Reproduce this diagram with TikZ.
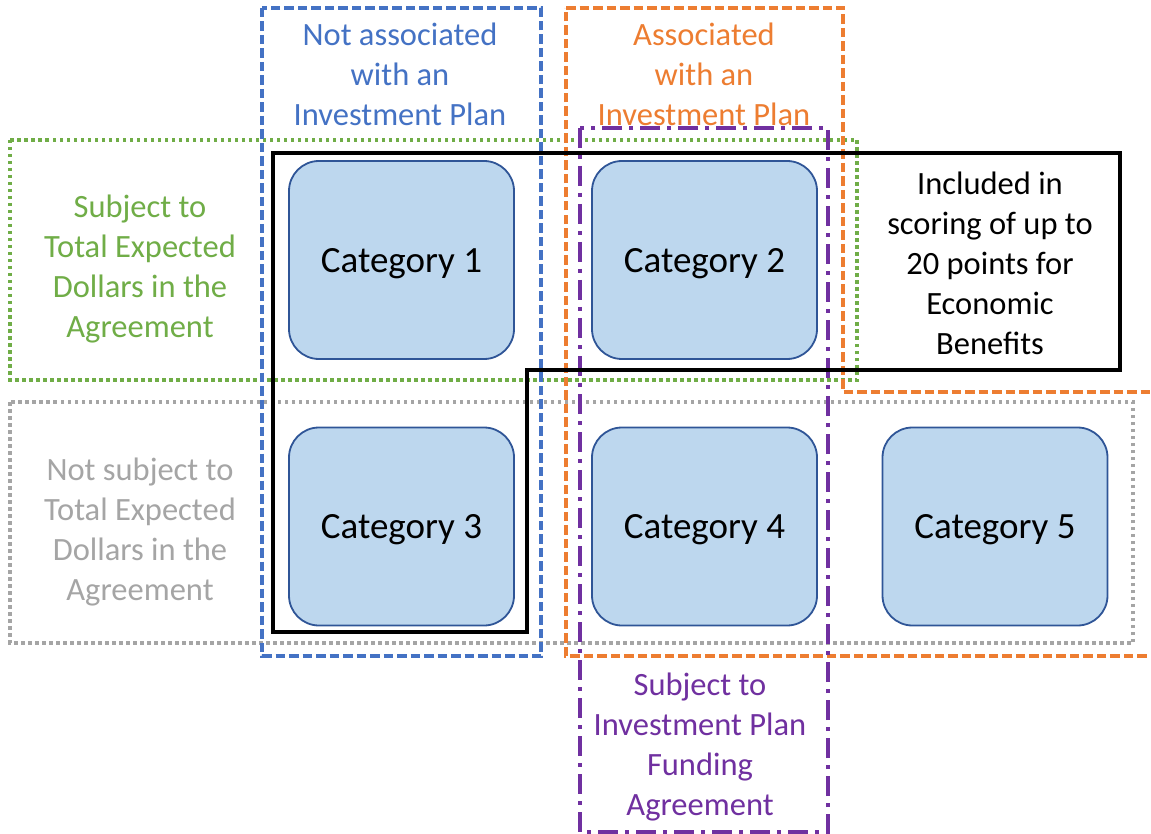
\documentclass[tikz,border=0pt]{standalone}
\usepackage{fontspec}
\setmainfont{Carlito}
\usepackage{tikz}
\definecolor{planblue}{HTML}{4472C4}
\definecolor{planorange}{HTML}{ED7D31}
\definecolor{plangreen}{HTML}{70AD47}
\definecolor{plangray}{HTML}{A5A5A5}
\definecolor{planpurple}{HTML}{7030A0}
\definecolor{catfill}{HTML}{BDD7EE}
\definecolor{catline}{HTML}{2F5597}
\begin{document}
\begin{tikzpicture}[x=1pt,y=-1pt,
  catbox/.style={draw=catline,fill=catfill,line width=1.8pt,rounded corners=30pt,
    minimum width=225pt,minimum height=198pt,text depth=0pt,font=\fontsize{37}{45}\selectfont},
  grouplabel/.style={align=center,font=\fontsize{32.5}{40}\selectfont},
  bluedash/.style={draw=planblue,line width=4pt,dash pattern=on 9.5pt off 4pt},
  orangedash/.style={draw=planorange,line width=4pt,dash pattern=on 9.5pt off 4pt},
  greendot/.style={draw=plangreen,line width=4pt,dash pattern=on 3.5pt off 3.5pt},
  graydot/.style={draw=plangray,line width=4pt,dash pattern=on 3.5pt off 3.5pt},
  purpledash/.style={draw=planpurple,line width=4pt,dash pattern=on 20pt off 7pt on 4pt off 7pt}]
\useasboundingbox (0,0) rectangle (1151,834);
\fill[white] (0,0) rectangle (1151,834);
% categories
\node[catbox] (cat1) at (401.5,260) {Category 1};
\node[catbox] (cat2) at (704.5,260) {Category 2};
\node[catbox] (cat3) at (401.5,526.5) {Category 3};
\node[catbox] (cat4) at (704.5,526.5) {Category 4};
\node[catbox] (cat5) at (995,526.5) {Category 5};
% groups
\draw[graydot] (10,402) rectangle (1133,643);
\draw[greendot] (10,140) rectangle (857,380);
\draw[bluedash] (262,8) rectangle (541,656);
\draw[orangedash] (566,8) -- (843,8) -- (843,392) -- (1160,392) -- (1160,656) -- (566,656) -- cycle;
\draw[purpledash] (580,128) rectangle (828,832);
\draw[line width=4pt] (273,153) -- (1120,153) -- (1120,370) -- (527,370) -- (527,632) -- (273,632) -- cycle;
% labels
\node[grouplabel,text=planblue] (lblnot) at (400,74) {Not associated\\with an\\Investment Plan};
\node[grouplabel,text=planorange] (lblassoc) at (704,74) {Associated\\with an\\Investment Plan};
\node[grouplabel,text=plangreen] (lbltotal) at (140,269) {Subject to\\Total Expected\\Dollars in the\\Agreement};
\node[grouplabel,text=plangray] (lblnottotal) at (140,532) {Not subject to\\Total Expected\\Dollars in the\\Agreement};
\node[grouplabel] (lblscore) at (990,263) {Included in\\scoring of up to\\20 points for\\Economic\\Benefits};
\node[grouplabel,text=planpurple] (lblfund) at (700,747) {Subject to\\Investment Plan\\Funding\\Agreement};
\end{tikzpicture}
\end{document}
